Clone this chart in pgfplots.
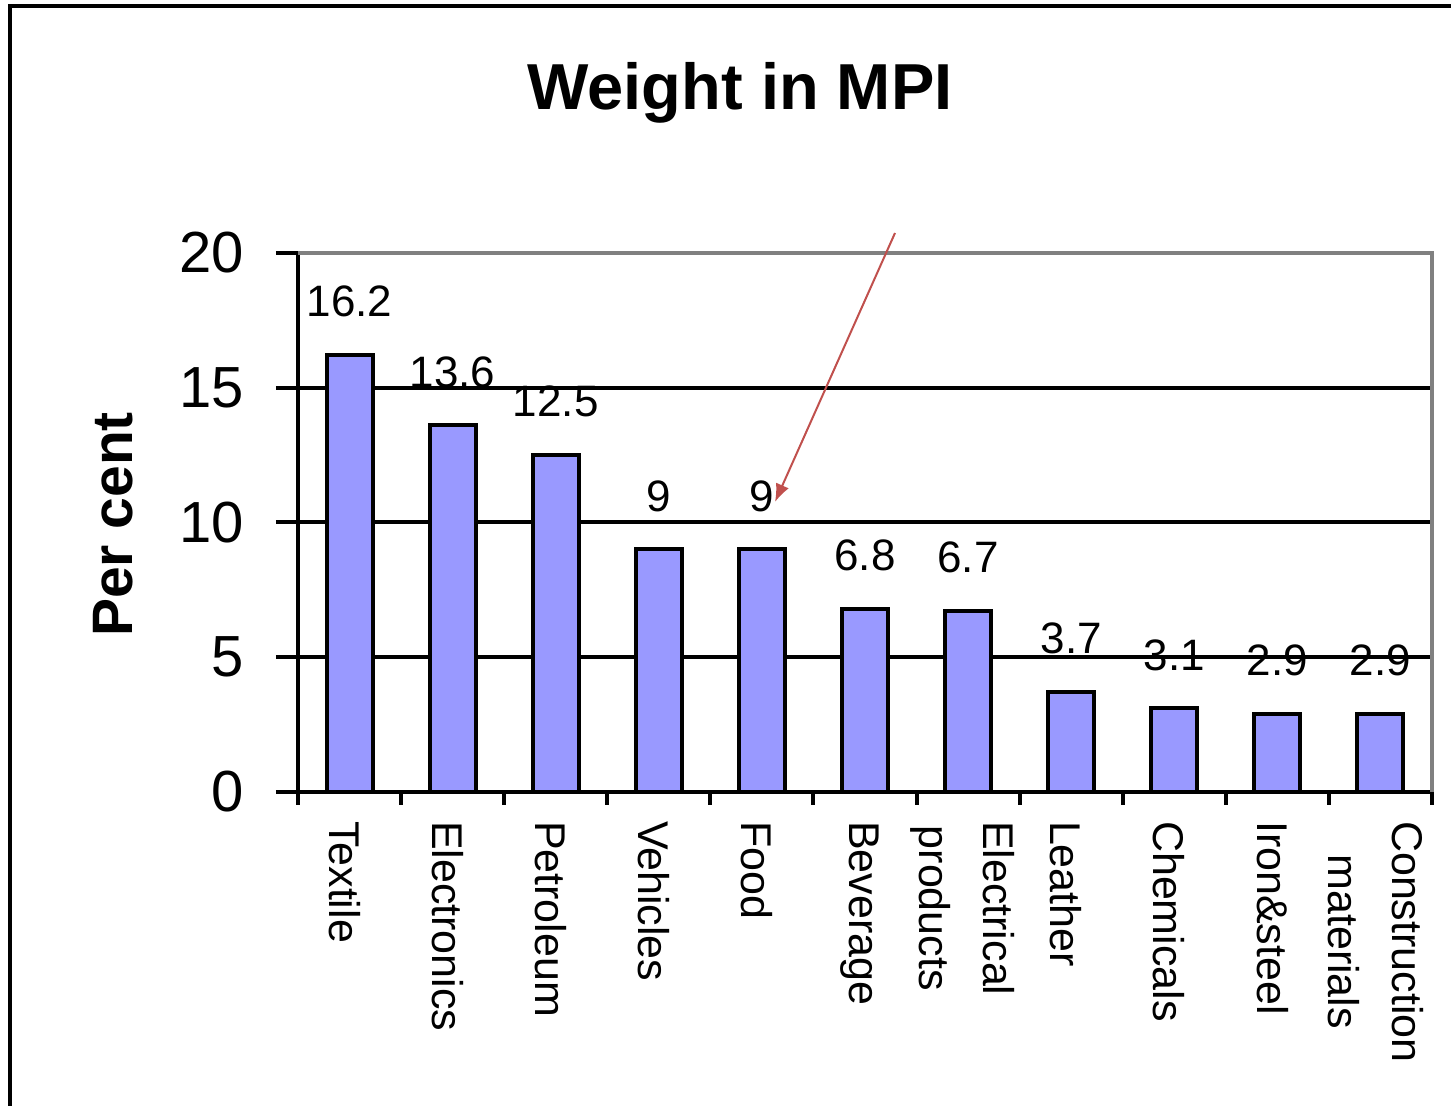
\documentclass[border=0pt]{standalone}
\usepackage{fontspec}
\setmainfont{Liberation Sans}
\usepackage{pgfplots}
\pgfplotsset{compat=1.18}
\usetikzlibrary{arrows.meta}
\definecolor{barfill}{HTML}{9999FF}
\definecolor{framegray}{HTML}{808080}
\definecolor{arrowred}{HTML}{C0504D}

\begin{document}
\begin{tikzpicture}
\useasboundingbox (0,0) rectangle (725.5pt,553pt);
% outer chart frame (left and top edges)
\draw[line width=2pt, black] (5pt,0) -- (5pt,549.75pt) -- (725.5pt,549.75pt);
\begin{axis}[
  at={(149pt,157pt)}, anchor=south west,
  scale only axis, width=567pt, height=269.5pt,
  xmin=-0.5, xmax=10.5, ymin=0, ymax=20,
  axis x line*=bottom, axis y line*=left,
  axis line style={line width=2pt, black},
  ytick={0,5,...,20},
  xtick={0,...,10},
  xticklabels={Textile, Electronics, Petroleum, Vehicles, Food, Beverage,
    {Electrical\\products}, Leather, Chemicals, Iron\&steel,
    {Construction\\materials}},
  minor xtick={-0.5,0.5,...,10.5},
  tick align=outside,
  major tick length=11pt, minor tick length=6.5pt,
  major x tick style={draw=none},
  minor x tick style={line width=2pt, black},
  y tick style={line width=2pt, black},
  ymajorgrids, major grid style={black, line width=2pt},
  /pgf/number format/assume math mode=true,
  yticklabel style={xshift=-12.5pt, font=\fontsize{29}{34}\selectfont},
  xticklabel style={xshift=-2.5pt, rotate=-90, anchor=west, align=center,
    font=\fontsize{21.5}{32}\selectfont},
  ybar, bar width=23pt,
  nodes near coords,
  every node near coord/.append style={anchor=south, inner sep=0pt,
    yshift=18pt, font=\fontsize{22}{26}\selectfont, black},
  clip=false,
]
\addplot[fill=barfill, draw=black, line width=2pt] coordinates {
  (0,16.2) (1,13.6) (2,12.5) (3,9) (4,9) (5,6.8)
  (6,6.7) (7,3.7) (8,3.1) (9,2.9) (10,2.9)
};
% gray upper and right border of the plot area
\draw[framegray, line width=2pt] (rel axis cs:0,1) -- (rel axis cs:1,1) -- (rel axis cs:1,0);
\end{axis}
% title and axis label
\node[anchor=base, font=\bfseries\fontsize{32.5}{38}\selectfont] at (370pt,498pt) {Weight in MPI};
\node[anchor=base, rotate=90, font=\bfseries\fontsize{28.5}{34}\selectfont] at (66pt,290.75pt) {Per cent};
% annotation arrow
\draw[arrowred, line width=1pt, -{Latex[length=9pt,width=7pt]}] (447.5pt,436.5pt) -- (387.5pt,302pt);
\end{tikzpicture}
\end{document}
